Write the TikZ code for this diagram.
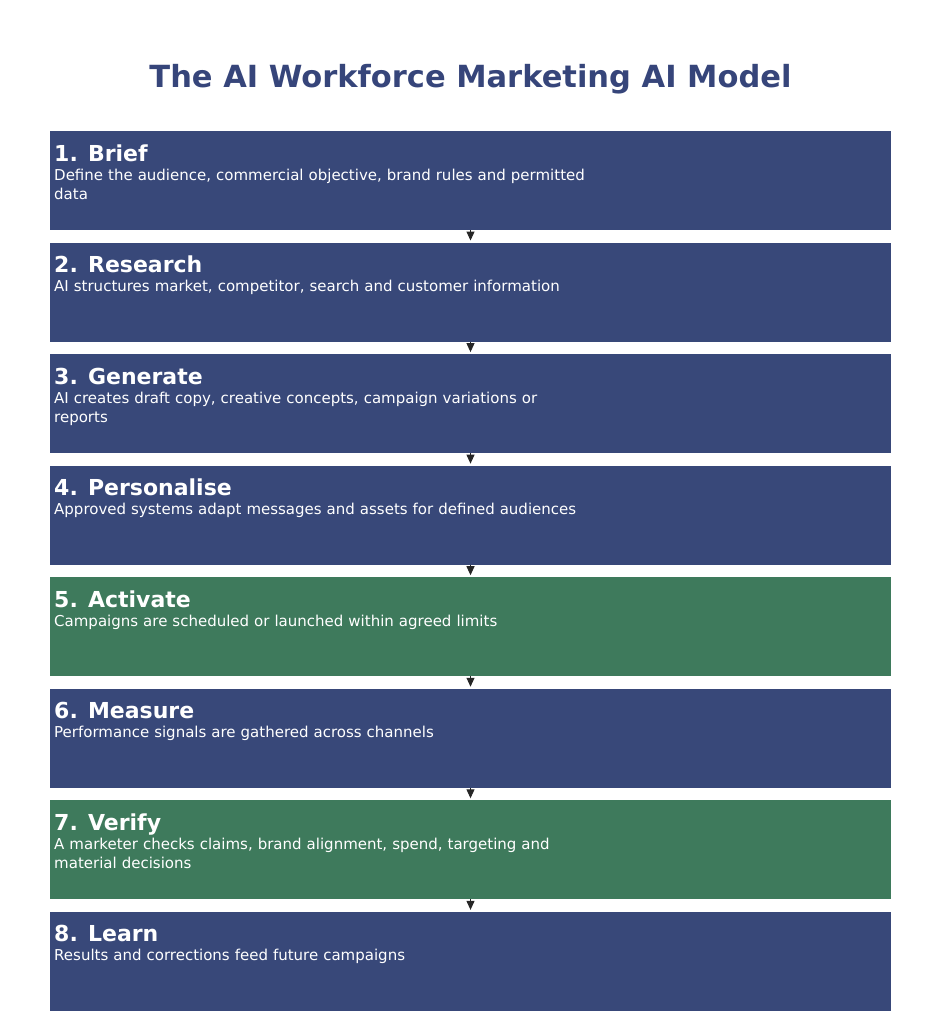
\documentclass[tikz,border=0pt]{standalone}
\usepackage{fontspec}
\setmainfont{DejaVu Sans}
\usetikzlibrary{arrows.meta}
\definecolor{stepblue}{HTML}{384879}
\definecolor{stepgreen}{HTML}{3E7A5C}
\definecolor{titleblue}{HTML}{36457A}
\definecolor{arrowgray}{HTML}{262626}
\tikzset{
  stepbox/.style={anchor=north west, minimum width=841pt, minimum height=99pt, inner sep=0pt, outer sep=0pt, draw=none},
  steptitle/.style={anchor=base west, inner sep=0pt, text=white, font=\fontsize{22}{26}\selectfont\bfseries},
  stepbody/.style={anchor=base west, inner sep=0pt, text=white, text width=600pt, align=left, font=\fontsize{15}{19}\selectfont},
  flowarrow/.style={draw=arrowgray, line width=1pt, -{Triangle[width=8pt,length=9pt]}, shorten >=2pt},
}
\begin{document}
\begin{tikzpicture}[x=1pt,y=1pt]
\useasboundingbox (0,0) rectangle (941,-1035);
\node[anchor=base, inner sep=0pt, text=titleblue, font=\fontsize{30.5}{36}\selectfont\bfseries] (title) at (470.5,-87.5) {The AI Workforce Marketing AI Model};

\foreach \i/\col/\ttl/\body in {
  1/stepblue/{1. Brief}/{Define the audience, commercial objective, brand rules and permitted\\data},
  2/stepblue/{2. Research}/{AI structures market, competitor, search and customer information},
  3/stepblue/{3. Generate}/{AI creates draft copy, creative concepts, campaign variations or\\reports},
  4/stepblue/{4. Personalise}/{Approved systems adapt messages and assets for defined audiences},
  5/stepgreen/{5. Activate}/{Campaigns are scheduled or launched within agreed limits},
  6/stepblue/{6. Measure}/{Performance signals are gathered across channels},
  7/stepgreen/{7. Verify}/{A marketer checks claims, brand alignment, spend, targeting and\\material decisions},
  8/stepblue/{8. Learn}/{Results and corrections feed future campaigns}%
}{
  \node[stepbox, fill=\col] (b\i) at (50,{-131-111.55*(\i-1)}) {};
  \node[steptitle] (t\i) at ([xshift=4pt,yshift=-30pt]b\i.north west) {\ttl};
  \node[stepbody] (d\i) at ([xshift=4pt,yshift=-49pt]b\i.north west) {\body};
}

\foreach \i [evaluate=\i as \j using int(\i+1)] in {1,...,7}{
  \draw[flowarrow] (b\i.south) -- (b\j.north);
}
\end{tikzpicture}
\end{document}
